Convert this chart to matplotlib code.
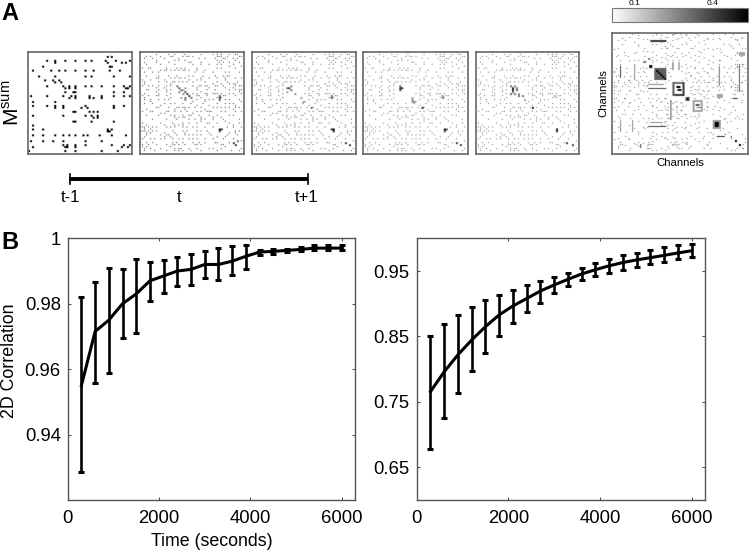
import numpy as np
import matplotlib
matplotlib.use('Agg')
import matplotlib.pyplot as plt
from matplotlib.lines import Line2D

plt.rcParams['font.family'] = ['Liberation Sans', 'DejaVu Sans']
plt.rcParams['mathtext.fontset'] = 'custom'
plt.rcParams['mathtext.rm'] = 'Liberation Sans'

# line charts, panel B
times = [300, 600, 900, 1200, 1500, 1800, 2100, 2400, 2700, 3000,
         3300, 3600, 3900, 4200, 4500, 4800, 5100, 5400, 5700, 6000]
left_mean = [.955, .9715, .975, .980, .983, .987, .9885, .990, .9905, .992,
             .992, .993, .9945, .9958, .996, .9963, .9966, .997, .997, .997]
left_upper = [.982, .9866, .991, .9906, .9938, .9927, .9934, .9944, .9952, .9962,
              .9971, .9975, .9979, .9964, .9966, .9968, .9972, .9978, .9978, .9978]
left_lower = [.9285, .9559, .9587, .9694, .9712, .9807, .9833, .9854, .9857, .988,
              .9872, .9887, .9907, .995, .9953, .9957, .996, .9963, .9963, .9963]
right_mean = [.7656, .796, .822, .8446, .865, .883, .8966, .908, .9195, .9287,
              .9373, .9455, .952, .958, .963, .967, .9704, .974, .9776, .981]
right_upper = [.85, .869, .883, .8945, .905, .913, .921, .928, .935, .941,
               .9475, .955, .962, .969, .9745, .978, .982, .986, .989, .992]
right_lower = [.6785, .725, .763, .797, .825, .851, .8706, .887, .9017, .9164,
               .9276, .936, .943, .9475, .9516, .956, .960, .964, .968, .9715]
x_ticks = [0, 2000, 4000, 6000]
left_ticks = [.94, .96, .98, 1]
left_tick_labels = ['0.94', '0.96', '0.98', '1']
right_ticks = [.65, .75, .85, .95]
right_tick_labels = ['0.65', '0.75', '0.85', '0.95']

# matrices, panel A: row -> columns, coarse 52 x 52 cells
first_cells = {
    2: [39, 41], 4: [9, 13, 18, 23, 28, 31, 38, 43, 50], 5: [13, 39, 46, 48],
    7: [7, 40, 41], 9: [2, 11, 15, 18, 23, 28, 32, 40, 45], 12: [5, 13, 28, 31, 42, 50],
    14: [8, 12, 15], 15: [13, 16], 17: [9, 17, 20, 23, 28, 31, 36, 42, 47, 50],
    18: [18, 20, 23, 48, 49], 20: [18, 22, 23, 42, 47], 22: [1, 9, 17, 21, 23, 30, 36, 42, 47, 50],
    23: [20, 23, 30, 32, 36], 25: [2, 13], 27: [2, 9, 13, 17, 28, 42, 47],
    28: [13, 17, 26, 29, 42], 30: [22, 23, 30, 32, 34], 32: [2, 17, 28, 31, 34],
    33: [32, 34], 35: [22, 23, 31, 42], 37: [2], 39: [2, 7, 39, 41], 40: [39, 40],
    42: [2, 7, 13, 17, 20, 23, 27, 29, 35, 41, 48], 45: [1, 7, 12, 17, 28, 36],
    47: [17, 19, 23, 28, 41, 47, 50], 48: [2, 18, 19, 23, 46, 49], 50: [0, 18, 23, 36, 44],
}
speckle_cells = {
    1: [8, 14, 22, 30, 38, 40, 44, 48], 2: [3, 10, 16, 23, 26, 39, 43, 50],
    3: [6, 12, 19, 29, 37, 41, 48], 5: [2, 8, 14, 25, 39, 41, 44], 6: [17, 30, 38, 40, 46],
    8: [4, 13, 18, 20, 22, 28, 38, 40], 10: [6, 9, 27, 31, 36, 44, 49],
    12: [3, 9, 14, 18, 24, 31, 37, 41, 43], 13: [9, 15, 17, 20, 30, 42, 47],
    15: [2, 9, 16, 19, 23, 26, 32, 38, 43, 48], 17: [1, 4, 9, 15, 29, 33, 37, 41, 47, 50],
    19: [4, 9, 13, 28, 33, 37, 44, 49], 21: [0, 2, 9, 15, 28, 33, 37, 44, 50],
    22: [4, 9, 13, 29, 33, 41, 47], 24: [2, 5, 9, 14, 28, 32, 36, 42],
    26: [2, 6, 12, 17, 21, 25, 31, 38, 44], 28: [9, 14, 18, 22, 27, 30, 36, 42, 47],
    30: [1, 5, 14, 17, 20, 23, 30, 33, 35, 40], 32: [3, 9, 17, 21, 25, 29, 34, 38, 44],
    34: [6, 13, 18, 24, 27, 30, 36, 41], 36: [1, 10, 16, 21, 33, 38, 44, 49],
    38: [0, 2, 4, 8, 13, 17, 21, 23, 28, 43, 46], 40: [0, 2, 4, 8, 16, 21, 23, 28, 33, 47],
    42: [3, 10, 14, 18, 22, 26, 30, 35, 43, 48], 44: [7, 12, 16, 19, 24, 28, 36, 41],
    46: [0, 3, 6, 16, 18, 21, 26, 29, 32, 37, 44], 47: [1, 4, 8, 16, 19, 22, 27, 30, 41],
    49: [2, 5, 10, 17, 20, 24, 28, 34, 40, 50], 50: [7, 13, 19, 25, 30, 38, 45],
}
# (row, col, value) for the darker spots of each of panels 2-5
panel2_spots = [(17, 18, .3), (18, 19, .35), (19, 20, .3), (20, 22, .35), (21, 23, .4), (22, 24, .4),
                (23, 22, .3), (23, 25, .3), (20, 19, .25), (21, 21, .25), (18, 22, .2), (24, 22, .25),
                (22, 39, .35), (23, 39, .35), (24, 39, .3), (19, 21, .2), (23, 20, .2),
                (39, 39, .5), (39, 40, .4), (40, 39, .35), (46, 46, .4), (47, 47, .4), (45, 48, .3)]
panel3_spots = [(18, 17, .3), (18, 18, .4), (19, 19, .3), (17, 19, .25), (21, 21, .25), (23, 24, .2),
                (25, 25, .2), (20, 17, .2), (22, 39, .3), (23, 39, .3), (39, 39, .45), (39, 40, .5),
                (40, 40, .4), (46, 46, .4), (47, 48, .4), (28, 29, .3)]
panel4_spots = [(17, 18, .3), (18, 18, .45), (18, 19, .4), (19, 18, .35), (24, 24, .25), (25, 25, .25),
                (22, 39, .25), (23, 39, .25), (39, 40, .5), (39, 41, .35), (40, 40, .35),
                (23, 24, .2), (25, 24, .2), (46, 46, .4), (47, 48, .4), (28, 29, .45)]
panel5_spots = [(17, 17, .3), (18, 18, .45), (19, 18, .45), (19, 20, .3), (21, 17, .3), (21, 19, .3),
                (22, 21, .3), (22, 23, .3), (18, 20, .3), (17, 19, .25), (20, 18, .3), (21, 21, .25),
                (24, 24, .2), (22, 39, .2), (39, 40, .5), (40, 40, .4),
                (46, 45, .4), (47, 48, .4), (28, 28, .45)]
speckle_levels = [.42, .34, .3, .3]

# last matrix: 68 columns x 61 rows
average_cells = {
    1: [10, 22, 30, 31, 34, 37, 42, 50, 56, 60], 3: [5, 13, 24, 33, 38, 47, 53, 64],
    6: [5, 13, 29, 37, 46, 58, 63], 8: [3, 16, 27, 33, 40, 52, 60, 66],
    10: [6, 12, 20, 31, 38, 44, 54, 62], 12: [2, 8, 16, 29, 35, 43, 50, 57, 64],
    14: [4, 11, 20, 22, 30, 33, 41, 48, 53, 62], 16: [4, 11, 30, 33, 53, 63, 65],
    18: [2, 7, 14, 17, 29, 37, 41, 45, 49, 58, 61, 66], 20: [1, 7, 13, 16, 28, 38, 42, 47, 57, 60, 66],
    22: [2, 6, 9, 14, 17, 29, 39, 44, 48, 52, 58, 65], 24: [3, 8, 12, 15, 19, 28, 37, 43, 50, 59, 66],
    25: [1, 3, 6, 9, 13, 16, 18, 40, 42, 44, 46, 48, 52, 54, 56, 60, 64],
    27: [2, 5, 8, 13, 17, 40, 43, 47, 52, 55, 59, 63], 29: [1, 4, 9, 14, 39, 42, 45, 48, 53, 61, 64],
    31: [3, 7, 12, 19, 22, 27, 40, 44, 47, 53, 60, 65], 33: [2, 6, 13, 18, 23, 26, 41, 46, 53, 62],
    35: [1, 5, 9, 14, 19, 24, 31, 34, 47, 52, 58, 64], 37: [3, 8, 13, 20, 26, 32, 35, 47, 51, 60],
    39: [2, 6, 11, 17, 23, 32, 34, 47, 53, 61], 41: [5, 10, 14, 22, 27, 33, 36, 43, 50, 58, 65],
    43: [4, 9, 18, 23, 28, 33, 37, 42, 56, 63], 45: [4, 10, 17, 21, 26, 31, 36, 43, 57],
    48: [4, 10, 16, 31, 36, 42, 47, 55, 62], 50: [7, 13, 20, 25, 32, 38, 43, 49, 58],
    53: [3, 8, 15, 19, 26, 31, 37, 45, 50, 59, 66], 55: [4, 13, 18, 29, 31, 35, 37, 48, 66],
    56: [4, 5, 12, 18, 19, 20, 30, 31, 32, 33, 37, 47, 65], 58: [3, 9, 18, 19, 28, 33, 38, 49, 57, 65],
}
# (row from, row to, col from, col to, value), in double resolution: 122 x 136 cells
average_blocks = [
    (36, 48, 42, 54, .34), (38, 40, 44, 46, .54), (40, 42, 46, 48, .54), (42, 44, 48, 50, .54), (44, 46, 50, 52, .54),
    (46, 48, 52, 54, .5), (33, 36, 37, 40, .54), (29, 31, 31, 34, .3), (26, 28, 36, 38, .3),
    # ring around channel 33
    (50, 52, 60, 72, .3), (62, 64, 60, 72, .42), (50, 64, 60, 62, .34), (50, 64, 70, 72, .42),
    (54, 56, 64, 68, .54), (57, 59, 65, 69, .5),
    (65, 69, 73, 77, .36), (66, 68, 74, 76, .5),
    # ring around channel 42
    (68, 70, 80, 90, .2), (78, 80, 80, 90, .2), (68, 80, 80, 82, .2), (68, 80, 88, 90, .2),
    (72, 74, 83, 87, .36), (75, 76, 84, 88, .3),
    (90, 95, 102, 106, .54), (88, 97, 100, 108, .22), (90, 95, 102, 106, .54),
    (108, 110, 122, 124, .54), (112, 114, 126, 128, .54), (102, 103, 112, 113, .45), (104, 105, 118, 119, .4),
    (8, 10, 38, 54, .42), (56, 57, 36, 54, .4), (52, 53, 36, 52, .25), (94, 95, 36, 54, .4), (90, 91, 38, 50, .25),
    (34, 46, 8, 9, .4), (32, 48, 22, 23, .25), (30, 38, 60, 61, .35), (30, 38, 66, 67, .3),
    (34, 54, 106, 107, .3), (32, 60, 126, 127, .35), (66, 67, 120, 124, .45), (68, 88, 58, 59, .35),
    (104, 105, 104, 112, .45), (88, 100, 8, 9, .25), (88, 100, 20, 21, .25),
    (112, 116, 28, 29, .4), (20, 24, 126, 132, .2), (62, 66, 104, 110, .2),
]
colorbar_ticks = [.1, .4]
colorbar_labels = ['0.1', '0.4']

W, H = 750, 551


def rect(x0, y0, x1, y1):
    # pixel box of the reference -> figure fractions
    return [x0 / W, 1 - y1 / H, (x1 - x0) / W, (y1 - y0) / H]


def speckle_matrix(rows, cols, cells, level, spots=(), mirror=True):
    # one fine cell per dot, spots get 2 x 2 cells
    mat = np.zeros((rows * 2, cols * 2))
    for r, cs in cells.items():
        for c in cs:
            mat[2 * r, 2 * c] = level
            if mirror:
                mat[min(2 * c * rows // cols, 2 * rows - 1), min(2 * r * cols // rows, 2 * cols - 1)] = level
    for r, c, v in spots:
        mat[2 * r:2 * r + 2, 2 * c:2 * c + 2] = v
    return mat


def show_matrix(ax, mat):
    ax.imshow(mat, cmap='gray_r', vmin=.01, vmax=.54, aspect='auto', interpolation='gaussian')
    ax.set_xticks([])
    ax.set_yticks([])
    for s in ax.spines.values():
        s.set_color('#666666')
        s.set_linewidth(1.2)


def line_panel(ax, mean, lower, upper, ticks, tick_labels, ylim):
    err = [np.array(mean) - np.array(lower), np.array(upper) - np.array(mean)]
    ax.errorbar(times, mean, yerr=err, color='black', lw=2.2, elinewidth=1.9,
                capsize=2.2, capthick=2.2)
    ax.set_xlim(0, 6290)
    ax.set_ylim(*ylim)
    ax.set_xticks(x_ticks)
    ax.set_yticks(ticks)
    ax.set_yticklabels(tick_labels)
    ax.tick_params(direction='in', length=2.5, width=.7, color='#444444', top=True, right=True,
                   labelsize=13.3, pad=5)
    ax.tick_params(axis='x', pad=7)
    for s in ax.spines.values():
        s.set_color('#555555')
        s.set_linewidth(1.0)


fig = plt.figure(figsize=(7.5, 5.51), dpi=100)

# small matrices
panel_x = [(28.3, 132.3), (140, 244), (251.7, 356), (363.3, 467.7), (475.7, 579.3)]
panel_spots = [panel2_spots, panel3_spots, panel4_spots, panel5_spots]
first_spots = [(r, c, .54) for r, cs in first_cells.items() for c in cs]
ax = fig.add_axes(rect(panel_x[0][0], 52, panel_x[0][1], 154))
show_matrix(ax, speckle_matrix(52, 52, {}, 0, first_spots))
for (x0, x1), spots, level in zip(panel_x[1:], panel_spots, speckle_levels):
    ax = fig.add_axes(rect(x0, 52, x1, 154))
    show_matrix(ax, speckle_matrix(52, 52, speckle_cells, level, spots))

# averaged matrix with colorbar
ax = fig.add_axes(rect(611.7, 32.5, 748.3, 154))
mat = speckle_matrix(61, 68, average_cells, .3)
for r0, r1, c0, c1, v in average_blocks:
    mat[r0:r1, c0:c1] = v
show_matrix(ax, mat)
im = ax.images[0]

cax = fig.add_axes(rect(611.7, 7.5, 748.3, 22))
cb = fig.colorbar(im, cax=cax, orientation='horizontal')
cb.set_ticks(colorbar_ticks, labels=colorbar_labels)
cax.xaxis.set_ticks_position('top')
cax.tick_params(length=0, labelsize=6, pad=.5)
cb.outline.set_edgecolor('#777777')

fig.text(680 / W, 1 - 163 / H, 'Channels', ha='center', va='center', fontsize=8.2)
fig.text(603 / W, 1 - 93 / H, 'Channels', ha='center', va='center', rotation=90, fontsize=8.2)

# time line under the matrices
fig.add_artist(Line2D([69 / W, 308 / W], [1 - 179 / H] * 2, color='black', lw=2.8, solid_capstyle='butt'))
for px in (69.5, 308):
    fig.add_artist(Line2D([px / W] * 2, [1 - 174 / H, 1 - 184 / H], color='black', lw=1.2))
for px, label in [(70, 't-1'), (179, 't'), (307, 't+1')]:
    fig.text(px / W, 1 - 197 / H, label, ha='center', va='center', fontsize=12)

fig.text(1 / W, 1 - 14 / H, 'A', fontsize=17, fontweight='bold', ha='left', va='center')
fig.text(1 / W, 1 - 242 / H, 'B', fontsize=17, fontweight='bold', ha='left', va='center')
fig.text(12 / W, 1 - 103 / H, r'M$^{\mathrm{sum}}$', rotation=90, fontsize=15, ha='center', va='center')

# correlation plots
ax_l = fig.add_axes(rect(67.7, 238.3, 355, 500))
line_panel(ax_l, left_mean, left_lower, left_upper, left_ticks, left_tick_labels, (.92, 1))
ax_r = fig.add_axes(rect(416.7, 238.3, 705, 500))
line_panel(ax_r, right_mean, right_lower, right_upper, right_ticks, right_tick_labels, (.6, 1))

fig.text(212 / W, 1 - 541 / H, 'Time (seconds)', ha='center', va='center', fontsize=12.8)
fig.text(10 / W, 1 - 361 / H, '2D Correlation', rotation=90, ha='center', va='center', fontsize=12.8)

fig.savefig('out.png', dpi=100)
